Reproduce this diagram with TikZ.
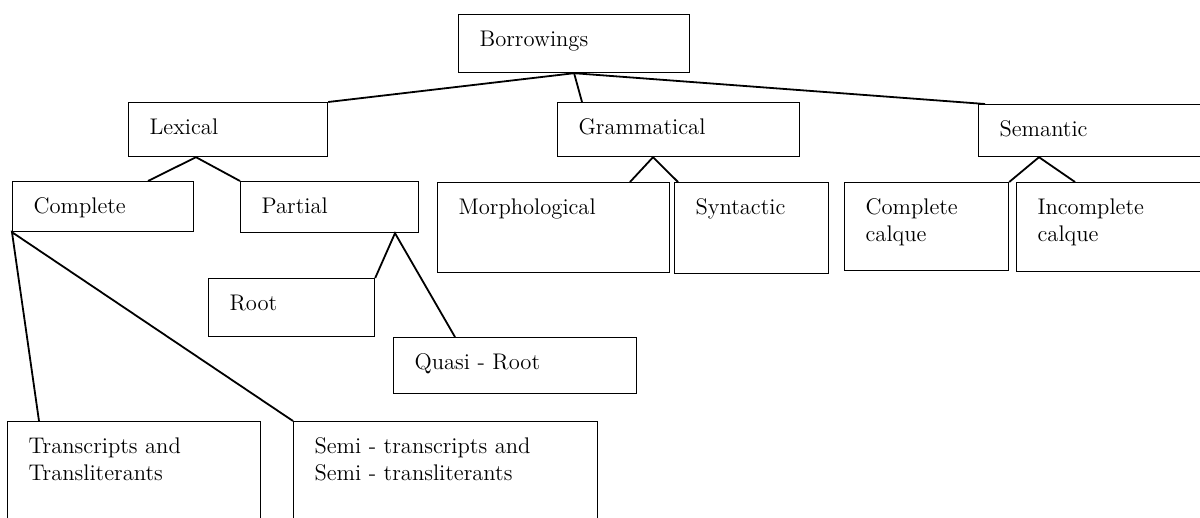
\documentclass[tikz,border=0pt]{standalone}
\usepackage{tikz}

\tikzset{
  catbox/.style={draw, line width=0.6pt, anchor=north west, align=left,
    inner xsep=10.5pt, inner ysep=0pt, text height=16pt,
    font=\fontsize{11.3}{13.5}\selectfont},
  branch/.style={line width=0.9pt}
}

\begin{document}
\begin{tikzpicture}[x=0.5pt, y=-0.5pt]
\clip (0,0) rectangle (1200,518);
\fill[white] (0,0) rectangle (1200,518);

\node[catbox, text width=94.5pt, text depth=13pt]   (borrow)    at (458,14)  {Borrowings};
\node[catbox, text width=78.5pt, text depth=11pt]   (lexical)   at (128,102) {Lexical};
\node[catbox, text width=100pt, text depth=11pt]    (gramm)     at (557,102) {Grammatical};
\node[catbox, text width=109pt, text depth=10pt]    (semantic)  at (978,104) {Semantic};
\node[catbox, text width=69.5pt, text depth=9pt]    (complete)  at (12,181)  {Complete};
\node[catbox, text width=68pt, text depth=9.5pt]    (partial)   at (240,181) {Partial};
\node[catbox, text width=95pt, text depth=29pt]     (morph)     at (437,182) {Morphological};
\node[catbox, text width=56pt, text depth=29.5pt]   (syntactic) at (674,182) {Syntactic};
\node[catbox, text width=61pt, text depth=28pt]     (ccalque)   at (844,182) {Complete\\calque};
\node[catbox, text width=109pt, text depth=28.5pt]  (icalque)   at (1016,182) {Incomplete\\calque};
\node[catbox, text width=62pt, text depth=13pt]     (root)      at (208,278) {Root};
\node[catbox, text width=100.5pt, text depth=12pt]  (quasi)     at (393,337) {Quasi - Root};
\node[catbox, text width=105.5pt, text depth=54pt]  (transcr)   at (7,421)   {Transcripts and\\Transliterants};
\node[catbox, text width=131pt, text depth=54pt]    (semi)      at (293,421) {Semi - transcripts and\\Semi - transliterants};

\draw[branch] (lexical.north east) -- (borrow.south) -- ([xshift=12.5pt]gramm.north west);
\draw[branch] (borrow.south) -- ([xshift=3.5pt]semantic.north west);
\draw[branch] ([xshift=68pt]complete.north west) -- ([xshift=34pt]lexical.south west) -- (partial.north west);
\draw[branch] ([xshift=96.5pt]morph.north west) -- ([xshift=48pt]gramm.south west) -- ([xshift=2pt]syntactic.north west);
\draw[branch] (ccalque.north east) -- ([xshift=30.5pt]semantic.south west) -- ([xshift=29.5pt]icalque.north west);
\draw[branch] ([xshift=16pt]transcr.north west) -- (complete.south west) -- (semi.north west);
\draw[branch] (root.north east) -- ([xshift=77.5pt]partial.south west) -- ([xshift=31pt]quasi.north west);
%--------end of tree ---------
\end{tikzpicture}
\end{document}
